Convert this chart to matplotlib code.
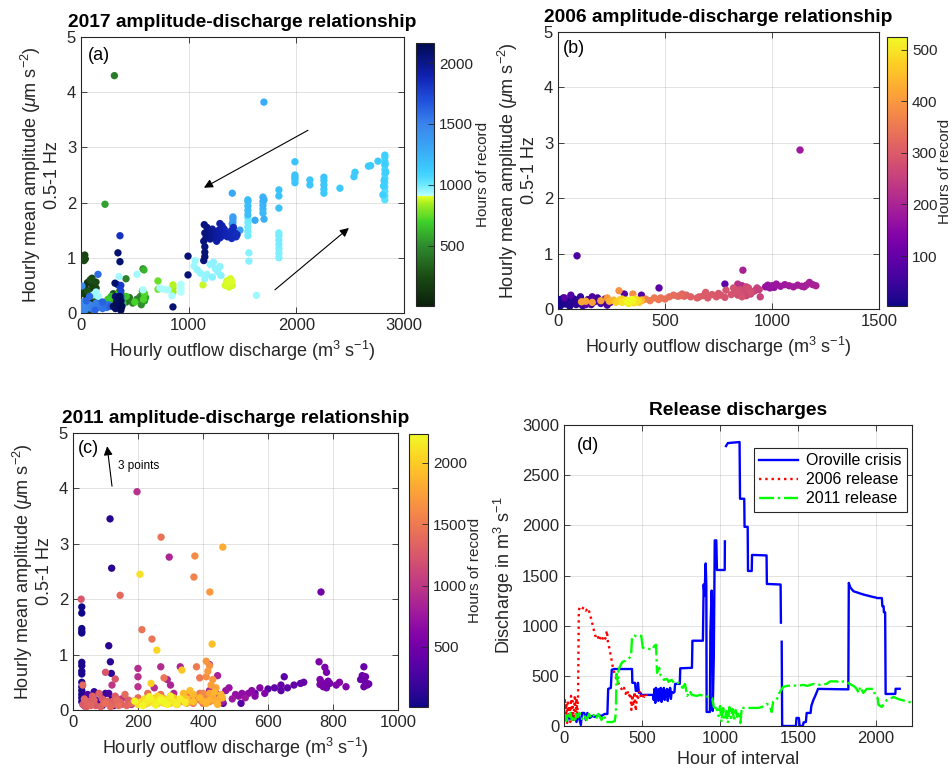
import numpy as np
import matplotlib
matplotlib.use('Agg')
import matplotlib.pyplot as plt
from matplotlib.colors import LinearSegmentedColormap

plt.rcParams['font.family'] = ['Liberation Sans', 'DejaVu Sans']
plt.rcParams['mathtext.fontset'] = 'custom'
plt.rcParams['mathtext.rm'] = 'Liberation Sans'
plt.rcParams['mathtext.it'] = 'Liberation Sans:italic'
plt.rcParams['mathtext.bf'] = 'Liberation Sans:bold'

nan = float('nan')

# ---- (d) release hydrographs: (hour of interval, discharge m3/s) ----
oroville_release = [
    (0, 60), (10, 110), (20, 50), (30, 120), (40, 70), (50, 130), (60, 60), (70, 100),
    (80, 40), (90, 120), (100, 60), (108, 10), (115, 130), (130, 130), (140, 60),
    (150, 130), (165, 80), (180, 100), (200, 90), (220, 110), (240, 100), (260, 120),
    (278, 120), (283, 370), (300, 380), (306, 560), (320, 568), (436, 568), (438, 430),
    (455, 430), (460, 350), (470, 350), (474, 430), (480, 330), (490, 330), (496, 310),
    (570, 310), (575, 260), (580, 370), (585, 230), (590, 380), (595, 280), (600, 360),
    (605, 250), (610, 370), (615, 290), (620, 380), (625, 240), (630, 360), (635, 300),
    (640, 380), (645, 260), (650, 350), (655, 290), (660, 370), (665, 250), (670, 360),
    (675, 300), (680, 380), (685, 270), (690, 340), (700, 330), (708, 340), (712, 420),
    (742, 420), (745, 575), (820, 580), (823, 850), (890, 850), (895, 1410), (900, 1300),
    (908, 1620), (912, 1400), (914, 140), (935, 140), (938, 930), (946, 1350), (950, 1200),
    (953, 150), (960, 700), (966, 1850), (976, 1850), (980, 1555), (1030, 1555),
    (1031, 1840), (nan, nan), (1038, 2790), (1050, 2820), (1125, 2830), (1128, 2265),
    (1155, 2265), (1157, 1985), (1177, 1985), (1179, 1545), (1203, 1545), (1205, 1705),
    (1298, 1700), (1300, 1416), (1388, 1410), (1390, 1030), (nan, nan), (1395, 840),
    (1398, 0), (1486, 0), (1490, 80), (1505, 80), (1510, 0), (1530, 0), (1535, 35),
    (1550, 40), (1555, 130), (1580, 130), (1585, 200), (1598, 260), (1610, 300),
    (1628, 370), (1822, 365), (1825, 1426), (1835, 1380), (1855, 1343), (1919, 1310),
    (1983, 1285), (2000, 1280), (2005, 1275), (2037, 1275), (2040, 1194), (2048, 1194),
    (2050, 1133), (2058, 1133), (2061, 319), (2123, 320), (2125, 371), (2151, 371),
]

release_2006 = [
    (0, 120), (5, 280), (10, 60), (15, 230), (20, 30), (25, 260), (30, 80), (35, 200),
    (40, 40), (45, 300), (50, 90), (55, 250), (60, 50), (65, 180), (70, 310), (75, 70),
    (80, 280), (85, 120), (90, 300), (95, 1150), (100, 1180), (115, 1160), (125, 1185),
    (140, 1150), (155, 1175), (165, 1120), (175, 1060), (185, 1000), (195, 930),
    (205, 880), (215, 900), (225, 850), (235, 890), (245, 860), (255, 900), (265, 870),
    (275, 950), (282, 830), (290, 780), (300, 700), (308, 630), (316, 560), (325, 520),
    (335, 470), (345, 440), (355, 400), (365, 380), (375, 350), (385, 380), (395, 320),
    (405, 360), (415, 290), (425, 330), (432, 160), (438, 310), (445, 200), (452, 340),
    (460, 150), (468, 320), (475, 280), (485, 350), (495, 270), (505, 330), (515, 290),
    (525, 320), (531, 300),
]

release_2011 = [
    (0, 60), (8, 110), (15, 50), (22, 120), (30, 70), (40, 130), (50, 60), (60, 100),
    (70, 40), (80, 120), (90, 90), (100, 130), (115, 70), (130, 110), (145, 60),
    (160, 120), (175, 80), (190, 110), (205, 70), (220, 120), (240, 60), (255, 110),
    (270, 40), (290, 40), (310, 40), (325, 50), (332, 120), (337, 520), (345, 430),
    (350, 560), (360, 600), (375, 640), (395, 650), (420, 680), (430, 700), (436, 890),
    (450, 900), (470, 890), (495, 900), (505, 780), (540, 770), (565, 760), (580, 800),
    (590, 810), (596, 530), (610, 580), (620, 500), (640, 460), (660, 470), (670, 440),
    (690, 460), (710, 420), (735, 430), (760, 380), (775, 420), (790, 300), (805, 350),
    (820, 310), (850, 300), (870, 310), (900, 300), (930, 290), (950, 280), (960, 190),
    (980, 170), (990, 100), (1000, 200), (1010, 40), (1020, 180), (1030, 60), (1040, 150),
    (1050, 30), (1060, 190), (1070, 80), (1080, 170), (1090, 50), (1100, 160), (1110, 90),
    (1120, 140), (1130, 30), (1140, 190), (1150, 180), (1200, 180), (1245, 180),
    (1270, 190), (1300, 220), (1320, 200), (1331, 140), (1340, 240), (1362, 260),
    (1380, 330), (1405, 390), (1430, 400), (1460, 405), (1500, 400), (1530, 410),
    (1560, 400), (1600, 420), (1640, 410), (1683, 420), (1705, 445), (1747, 445),
    (1768, 430), (1790, 445), (1811, 440), (1830, 420), (1854, 400), (1870, 380),
    (1890, 330), (1897, 390), (1918, 330), (1940, 370), (1983, 370), (1994, 300),
    (2010, 280), (2015, 210), (2037, 190), (2050, 220), (2069, 260), (2090, 270),
    (2111, 290), (2140, 270), (2160, 260), (2186, 250), (2210, 240), (2230, 230),
]

# ---- scatter panels: (discharge, amplitude, hour of record) ----
pts_2017 = [
    # first days, low release
    (10, 0.05, 10), (20, 0.12, 20), (30, 0.2, 30), (40, 0.08, 40), (55, 0.3, 50),
    (65, 0.15, 60), (80, 0.25, 70), (95, 0.1, 80), (110, 0.2, 90), (125, 0.35, 100),
    (40, 0.45, 110), (60, 0.55, 120), (90, 0.4, 130), (120, 0.12, 140), (135, 0.28, 150),
    (25, 0.35, 160), (50, 0.22, 170), (75, 0.05, 180), (105, 0.5, 190), (140, 0.45, 200),
    (35, 1.05, 210), (28, 0.95, 215), (40, 0.98, 220), (102, 0.63, 230), (139, 0.56, 240),
    (150, 0.2, 250), (85, 0.6, 260), (60, 0.4, 270), (120, 0.3, 280),
    # green
    (300, 0.35, 300), (330, 0.25, 320), (360, 0.4, 340), (380, 0.15, 360), (400, 0.3, 380),
    (420, 0.2, 400), (450, 0.28, 420), (310, 4.3, 450), (480, 0.18, 440), (418, 0.62, 470),
    (520, 0.25, 460), (550, 0.3, 480), (576, 0.80, 500), (560, 0.15, 505), (580, 0.35, 520),
    (590, 0.22, 540), (223, 1.97, 560), (600, 0.28, 565), (570, 0.4, 580), (340, 0.1, 600),
    (300, 0.2, 610), (585, 0.78, 620), (260, 0.15, 625), (280, 0.3, 630), (320, 0.12, 640),
    (360, 0.25, 650), (390, 0.18, 660), (420, 0.3, 670), (250, 0.25, 680), (230, 0.1, 690),
    (350, 0.35, 700), (500, 0.2, 710), (580, 0.25, 720), (590, 0.35, 730),
    # yellow-green
    (715, 0.58, 760), (715, 0.43, 780), (854, 0.38, 840), (854, 0.45, 850), (854, 0.51, 860),
    (1133, 0.51, 880), (1340, 0.5, 885), (1355, 0.58, 886), (1370, 0.52, 887),
    (1385, 0.6, 888), (1395, 0.55, 889), (1405, 0.5, 890), (1375, 0.47, 891),
    (1390, 0.62, 892), (1360, 0.54, 893), (1400, 0.57, 894),
    # light cyan
    (929, 0.38, 920), (929, 0.45, 922), (929, 0.52, 924), (845, 0.31, 926), (733, 0.45, 928),
    (770, 0.43, 930), (808, 0.42, 932), (576, 0.42, 934), (520, 0.70, 936), (353, 0.66, 938),
    (160, 0.30, 940), (140, 0.38, 942), (115, 0.33, 944), (1630, 0.32, 946), (1050, 0.85, 948),
    (1060, 0.95, 950), (1080, 0.78, 952), (1110, 0.72, 954), (1150, 0.62, 956),
    (1170, 0.70, 958), (1200, 0.88, 960), (1230, 0.92, 962), (1250, 0.80, 964),
    (1270, 0.75, 966), (1290, 0.84, 968), (1300, 0.68, 970), (1220, 0.65, 972),
    (1560, 0.94, 974), (1560, 1.09, 976), (1838, 1.00, 980), (1838, 1.08, 982),
    (1838, 1.16, 984), (1838, 1.24, 986), (1838, 1.32, 988), (1838, 1.40, 990),
    (1838, 1.45, 992), (1550, 1.40, 994), (1550, 1.48, 996), (1550, 1.56, 998),
    (1550, 1.64, 1000), (1550, 1.72, 1002),
    # cyan, peak release
    (2822, 2.05, 1040), (2822, 2.12, 1045), (2822, 2.20, 1050), (2822, 2.28, 1055),
    (2822, 2.36, 1060), (2822, 2.44, 1065), (2822, 2.52, 1070), (2822, 2.60, 1075),
    (2822, 2.68, 1080), (2822, 2.75, 1085), (2822, 2.82, 1090), (2822, 2.86, 1095),
    (2810, 2.30, 1100), (2830, 2.55, 1105), (2804, 2.14, 1110), (2815, 2.40, 1115),
    (2825, 2.70, 1118), (2758, 2.75, 1120), (2690, 2.67, 1121), (2670, 2.66, 1122),
    (2545, 2.55, 1123), (2535, 2.47, 1124), (2405, 2.26, 1125), (2256, 2.17, 1130),
    (2256, 2.24, 1134), (2256, 2.32, 1138), (2256, 2.40, 1142), (2256, 2.46, 1146),
    (2126, 2.32, 1150), (2126, 2.41, 1152), (1987, 2.36, 1155), (1987, 2.42, 1158),
    (1987, 2.46, 1161), (1987, 2.50, 1164), (1987, 2.74, 1166), (1838, 2.23, 1168),
    (1838, 2.12, 1170), (1838, 1.90, 1172),
    # sky blue
    (1550, 1.78, 1180), (1550, 1.86, 1184), (1550, 1.94, 1188), (1550, 2.02, 1192),
    (1550, 2.05, 1196), (1690, 1.81, 1210), (1690, 1.88, 1220), (1690, 1.95, 1230),
    (1690, 2.02, 1240), (1690, 2.10, 1250), (1700, 1.70, 1260), (1700, 2.05, 1270),
    (1699, 3.82, 1280), (1616, 1.68, 1290), (1405, 2.17, 1300), (1411, 1.52, 1310),
    (1411, 1.58, 1320), (1411, 1.64, 1330), (1411, 1.70, 1340), (1411, 1.74, 1350),
    (1405, 1.62, 1360), (1476, 1.50, 1370),
    # blue, spillway shut
    (5, 0.05, 1400), (10, 0.1, 1410), (20, 0.15, 1420), (0, 0.08, 1430), (15, 0.2, 1440),
    (30, 0.12, 1450), (9, 0.49, 1460), (40, 0.06, 1470), (60, 0.1, 1480), (80, 0.15, 1490),
    (100, 0.08, 1500), (120, 0.12, 1510), (140, 0.18, 1520), (160, 0.1, 1530),
    (180, 0.14, 1540), (200, 0.08, 1550), (220, 0.12, 1560), (240, 0.1, 1570),
    (250, 0.15, 1580), (158, 0.70, 1590), (80, 0.3, 1600), (50, 0.22, 1610),
    (130, 0.05, 1620), (200, 0.2, 1630), (270, 0.12, 1640), (370, 0.1, 1660),
    (370, 0.15, 1680), (370, 0.2, 1700), (370, 0.25, 1720), (370, 0.3, 1740),
    (370, 0.4, 1760), (370, 0.5, 1780), (343, 0.51, 1800), (362, 1.40, 1820),
    # navy, second high release
    (1420, 1.40, 1830), (1430, 1.45, 1835), (1440, 1.38, 1840), (1450, 1.42, 1845),
    (1415, 1.55, 1850), (1400, 1.35, 1855), (1390, 1.48, 1860), (1370, 1.42, 1865),
    (1360, 1.38, 1870), (1340, 1.45, 1875), (1330, 1.52, 1880), (1320, 1.40, 1885),
    (1310, 1.58, 1890), (1300, 1.44, 1895), (1290, 1.36, 1900), (1290, 1.62, 1905),
    (1280, 1.50, 1910), (1270, 1.42, 1920), (1260, 1.30, 1930), (1240, 1.46, 1940),
    (1230, 1.38, 1950), (1220, 1.52, 1960), (1210, 1.42, 1970), (1200, 1.34, 1980),
    (1190, 1.48, 1990), (1180, 1.40, 2000), (1170, 1.55, 2010), (1160, 1.36, 2020),
    (1150, 1.45, 2030), (1145, 1.60, 2035), (1140, 1.30, 2040), (1150, 1.20, 2045),
    (1150, 1.10, 2050), (1150, 1.02, 2055), (1140, 0.95, 2058), (994, 1.03, 2060),
    (994, 0.69, 2062), (854, 0.11, 2064), (343, 1.09, 2070), (362, 0.93, 2075),
    (316, 0.54, 2080), (320, 0.3, 2085), (330, 0.2, 2090), (340, 0.1, 2095),
    (350, 0.25, 2100), (360, 0.15, 2105), (370, 0.05, 2110), (300, 0.12, 2115),
    (320, 0.08, 2120), (340, 0.18, 2125), (360, 0.3, 2130), (370, 0.22, 2140),
    (380, 0.12, 2150), (370, 0.08, 2160),
]

pts_2006 = [
    # navy
    (5, 0.10, 5), (8, 0.17, 8), (12, 0.06, 10), (18, 0.14, 12), (25, 0.20, 15), (35, 0.09, 18),
    (45, 0.15, 20), (55, 0.05, 23), (65, 0.12, 26), (75, 0.18, 29), (85, 0.08, 32),
    (95, 0.14, 35), (105, 0.22, 38), (115, 0.06, 41), (125, 0.12, 44), (140, 0.17, 47),
    (155, 0.08, 50), (170, 0.13, 53), (185, 0.20, 56), (200, 0.10, 59), (215, 0.15, 62),
    (230, 0.07, 65), (245, 0.12, 68), (89, 0.96, 70), (160, 0.22, 72), (220, 0.18, 74),
    (310, 0.27, 76), (390, 0.25, 78), (60, 0.25, 80), (130, 0.08, 82), (30, 0.2, 84),
    (472, 0.38, 88), (780, 0.45, 92),
    # magenta
    (970, 0.40, 166), (1010, 0.39, 168), (980, 0.43, 170), (990, 0.38, 172), (1000, 0.42, 174),
    (1020, 0.45, 176), (1040, 0.41, 178), (1060, 0.44, 180), (1131, 2.87, 182),
    (1080, 0.42, 184), (1100, 0.40, 186), (1120, 0.43, 188), (1140, 0.41, 190),
    (1150, 0.40, 192), (1160, 0.43, 194), (864, 0.70, 195), (1175, 0.48, 196),
    (1190, 0.44, 198), (1205, 0.42, 200), (860, 0.42, 215), (840, 0.45, 225),
    # pink
    (940, 0.35, 250), (930, 0.38, 252), (920, 0.33, 254), (945, 0.22, 256), (910, 0.31, 258),
    (900, 0.27, 260), (890, 0.33, 262), (880, 0.24, 264), (880, 0.40, 266), (870, 0.28, 268),
    (850, 0.30, 270), (850, 0.35, 272), (870, 0.35, 274), (840, 0.25, 276), (890, 0.38, 278),
    (830, 0.30, 280), (900, 0.30, 281), (820, 0.38, 282), (840, 0.32, 283), (860, 0.22, 284),
    (810, 0.26, 285), (785, 0.34, 287),
    # salmon
    (780, 0.21, 288), (760, 0.25, 290), (750, 0.28, 292), (740, 0.22, 294), (720, 0.26, 296),
    (700, 0.20, 298), (690, 0.30, 300), (680, 0.24, 302), (660, 0.22, 304), (650, 0.20, 306),
    # orange-red
    (620, 0.22, 308), (600, 0.25, 312), (590, 0.23, 316), (580, 0.27, 320), (570, 0.24, 323),
    (560, 0.23, 326), (540, 0.25, 330), (520, 0.22, 333), (500, 0.18, 336), (480, 0.20, 340),
    # orange
    (470, 0.17, 344), (450, 0.20, 350), (430, 0.15, 356), (410, 0.18, 362), (395, 0.16, 370),
    (350, 0.27, 380), (285, 0.33, 390), (230, 0.20, 400), (200, 0.15, 405), (160, 0.12, 410),
    (130, 0.14, 415), (110, 0.13, 420),
    # yellow
    (240, 0.14, 432), (260, 0.16, 440), (390, 0.16, 448), (300, 0.18, 458), (380, 0.12, 468),
    (270, 0.12, 470), (290, 0.17, 475), (280, 0.14, 478), (375, 0.16, 480), (310, 0.15, 484),
    (360, 0.18, 490), (370, 0.14, 495), (355, 0.11, 498), (300, 0.12, 500), (330, 0.10, 505),
    (320, 0.16, 510), (350, 0.15, 515), (340, 0.13, 520), (345, 0.17, 523), (325, 0.13, 525),
]

pts_2011 = [
    # navy
    (27, 1.86, 20), (27, 1.75, 25), (27, 1.47, 30), (27, 1.42, 35), (27, 1.39, 40),
    (27, 0.86, 45), (27, 0.80, 50), (27, 0.70, 55), (27, 0.65, 60), (27, 0.50, 65),
    (27, 0.42, 70), (27, 0.35, 75), (27, 0.28, 80), (27, 0.22, 85), (27, 0.15, 90),
    (114, 3.45, 100), (119, 2.56, 110), (110, 1.16, 120), (115, 0.87, 130), (118, 0.66, 140),
    (65, 0.33, 150), (90, 0.20, 160), (40, 0.15, 170), (75, 0.10, 180), (100, 0.30, 190),
    (60, 0.25, 200), (120, 0.20, 210), (50, 0.12, 220), (35, 0.08, 230), (80, 0.15, 240),
    (100, 0.12, 250), (125, 0.08, 260), (110, 0.30, 270), (90, 0.08, 280), (70, 0.18, 290),
    (45, 0.28, 300), (462, 0.12, 330), (517, 0.12, 345),
    # indigo / purple
    (560, 0.30, 350), (600, 0.38, 360), (640, 0.35, 370), (650, 0.60, 380), (660, 0.40, 390),
    (680, 0.45, 400), (700, 0.48, 410), (710, 0.50, 420), (620, 0.40, 425), (640, 0.45, 430),
    (885, 0.55, 440), (890, 0.62, 448), (895, 0.78, 455), (900, 0.50, 462), (905, 0.45, 470),
    (895, 0.42, 478), (910, 0.47, 486), (900, 0.60, 494), (763, 2.13, 500), (790, 0.48, 508),
    (780, 0.40, 515), (770, 0.45, 522), (765, 0.50, 530), (770, 0.42, 535), (780, 0.68, 540),
    (785, 0.52, 545), (775, 0.77, 550), (760, 0.46, 555), (757, 0.87, 560), (760, 0.55, 570),
    (810, 0.45, 580), (840, 0.42, 588), (820, 0.50, 595),
    (590, 0.30, 605), (575, 0.40, 615), (560, 0.25, 630), (550, 0.35, 645), (540, 0.30, 660),
    (520, 0.30, 675), (510, 0.25, 690), (500, 0.28, 705), (480, 0.40, 720), (470, 0.35, 735),
    (530, 0.22, 750), (490, 0.20, 765), (460, 0.15, 780), (440, 0.30, 795),
    # magenta
    (440, 0.25, 805), (430, 0.20, 815), (420, 0.35, 825), (445, 0.62, 835), (420, 0.82, 840),
    (330, 0.78, 850), (300, 0.45, 860), (296, 2.76, 870), (290, 0.55, 880), (310, 0.30, 890),
    (280, 0.20, 900), (270, 0.78, 910), (250, 0.40, 920), (200, 0.75, 930), (200, 0.60, 940),
    (197, 3.94, 950), (230, 0.15, 960), (200, 0.42, 970), (180, 0.10, 980), (150, 0.20, 990),
    (120, 0.45, 1000),
    # pink-red, low release
    (100, 0.68, 1230), (130, 0.56, 1240), (25, 2.00, 1250), (30, 0.10, 1260), (50, 0.15, 1265),
    (70, 0.08, 1270), (90, 0.20, 1275), (110, 0.12, 1280), (130, 0.25, 1285), (150, 0.10, 1290),
    (170, 0.18, 1295), (60, 0.25, 1300), (40, 0.05, 1305), (80, 0.30, 1310), (120, 0.15, 1315),
    (45, 0.12, 1320), (65, 0.18, 1325), (85, 0.06, 1330), (105, 0.16, 1335), (125, 0.10, 1340),
    (145, 0.14, 1345), (165, 0.08, 1350), (185, 0.16, 1355), (35, 0.20, 1360),
    (55, 0.08, 1365), (95, 0.12, 1370), (115, 0.06, 1375), (135, 0.18, 1380),
    (30, 0.45, 1385), (145, 2.07, 1390), (160, 0.28, 1395), (180, 0.12, 1400),
    (200, 0.22, 1405), (140, 0.08, 1410), (100, 0.12, 1415), (200, 0.15, 1420),
    (230, 0.30, 1430), (220, 0.10, 1440),
    # salmon / orange-red
    (250, 0.20, 1445), (270, 0.28, 1448), (271, 3.12, 1451), (212, 1.45, 1454),
    (243, 1.28, 1457), (290, 0.15, 1460), (300, 0.25, 1463), (320, 0.10, 1466),
    (340, 0.20, 1469), (260, 0.12, 1472), (280, 0.58, 1475), (360, 0.15, 1478),
    (380, 0.22, 1481), (390, 0.30, 1484), (400, 0.12, 1487), (310, 0.18, 1490),
    (350, 0.28, 1493), (370, 0.12, 1496), (390, 0.58, 1499), (390, 0.18, 1502),
    # orange
    (380, 0.78, 1505), (340, 0.15, 1510), (360, 0.18, 1520), (400, 0.20, 1530),
    (420, 0.15, 1540), (372, 2.40, 1550), (410, 0.25, 1560), (430, 0.18, 1580),
    (400, 0.30, 1600), (375, 2.78, 1620), (410, 0.60, 1640), (420, 0.80, 1660),
    (410, 0.88, 1680), (421, 2.13, 1700), (415, 0.70, 1710), (430, 0.55, 1720),
    (425, 0.45, 1740), (440, 0.40, 1760), (420, 0.30, 1780), (430, 0.25, 1800),
    (461, 2.94, 1810), (450, 0.20, 1820), (440, 0.15, 1830), (460, 0.22, 1840),
    (420, 0.18, 1850), (400, 0.16, 1860), (445, 0.10, 1865), (455, 0.28, 1870),
    (435, 0.32, 1875), (410, 0.12, 1880), (390, 0.22, 1885), (370, 0.28, 1890),
    (350, 0.12, 1895), (340, 0.22, 1900),
    # yellow, last weeks
    (340, 0.30, 1910), (360, 0.35, 1920), (330, 0.18, 1930), (428, 1.19, 1940),
    (370, 0.15, 1950), (350, 0.20, 1960), (335, 0.72, 1970), (310, 0.22, 1980),
    (290, 0.15, 1990), (300, 0.12, 2000), (280, 0.20, 2010), (240, 0.48, 2020),
    (260, 0.25, 2030), (270, 0.15, 2040), (258, 1.08, 2050), (250, 0.18, 2060),
    (230, 0.12, 2070), (220, 0.20, 2080), (210, 0.15, 2090), (200, 0.10, 2100),
    (206, 2.45, 2110), (250, 0.12, 2120), (270, 0.22, 2130), (280, 0.12, 2140),
    (290, 0.18, 2150), (310, 0.15, 2160), (330, 0.20, 2170), (300, 0.25, 2180),
    (260, 0.14, 2190), (240, 0.20, 2200), (280, 0.16, 2210), (290, 0.10, 2220),
    (270, 0.18, 2230), (190, 0.16, 2225), (215, 0.08, 2215), (235, 0.24, 2205),
    (255, 0.09, 2195), (320, 0.10, 2185), (345, 0.14, 2175), (225, 0.15, 2165),
]

hour_range_2017 = (8, 2164)
hour_range_2006 = (3, 525)
hour_range_2011 = (10, 2236)

# two-part colormap used for the 2017 panel (green while filling, blues after)
cmap17_nodes = [
    (8, '#0a1f0a'), (250, '#1b4d14'), (500, '#2e8b2e'), (700, '#3fd12a'),
    (850, '#a8f020'), (905, '#e6ff2a'), (912, '#b8ffff'), (1000, '#70eaff'),
    (1100, '#3dd0ff'), (1300, '#3aa8f5'), (1500, '#3a84ec'), (1700, '#2050dc'),
    (1900, '#1020b0'), (2164, '#000a50'),
]

W, H = 952, 778
TXT = '#262626'


def px_box(left, top, right, bottom):
    return [left / W, 1 - bottom / H, (right - left) / W, (bottom - top) / H]


def style_axes(ax):
    ax.grid(True, color=TXT, alpha=0.15, linewidth=0.6)
    ax.set_axisbelow(True)
    ax.tick_params(direction='in', top=True, right=True, length=4, width=0.6,
                   labelsize=12, colors=TXT)
    for sp in ax.spines.values():
        sp.set_color(TXT)
        sp.set_linewidth(0.8)


def scatter_panel(ax, cax, pts, cmap, hrange, cticks, xmax, xstep, title, tag, tagpos,
                  cbar_label_x):
    arr = np.array(pts, dtype=float)
    arr = arr[np.argsort(arr[:, 2], kind='stable')]
    sc = ax.scatter(arr[:, 0], arr[:, 1], c=arr[:, 2], cmap=cmap,
                    vmin=hrange[0], vmax=hrange[1], s=28, linewidths=0, zorder=3)
    ax.set_xlim(0, xmax)
    ax.set_ylim(0, 5)
    ax.set_xticks(np.arange(0, xmax + 1, xstep))
    ax.set_yticks([0, 1, 2, 3, 4, 5])
    style_axes(ax)
    ax.set_xlabel('Hourly outflow discharge (m$^{3}$ s$^{-1}$)', fontsize=13, color=TXT)
    ax.set_ylabel('Hourly mean amplitude ($\\mu$m s$^{-2}$)\n0.5-1 Hz', fontsize=13,
                  color=TXT, linespacing=1.1)
    ax.set_title(title, fontsize=13.8, fontweight='bold', pad=7)
    ax.text(tagpos[0], tagpos[1], tag, transform=ax.transAxes, va='top', ha='left',
            fontsize=13)

    cb = ax.figure.colorbar(sc, cax=cax)
    cb.set_ticks(cticks)
    cb.ax.tick_params(direction='in', length=4, width=0.6, labelsize=11, colors=TXT)
    cb.outline.set_edgecolor(TXT)
    cb.outline.set_linewidth(0.8)
    cb.set_label('Hours of record', fontsize=11, color=TXT)
    cb.ax.yaxis.set_label_coords(cbar_label_x, 0.5)
    return sc


fig = plt.figure(figsize=(W / 100, H / 100), dpi=100)

ax_a = fig.add_axes(px_box(81, 37, 404, 313))
cax_a = fig.add_axes(px_box(416, 43, 434, 306))
ax_b = fig.add_axes(px_box(558, 32, 879, 309))
cax_b = fig.add_axes(px_box(887, 37, 907, 306))
ax_c = fig.add_axes(px_box(73, 433, 398, 710))
cax_c = fig.add_axes(px_box(409, 434, 428, 707))
ax_d = fig.add_axes(px_box(564, 425, 912, 726))

lo, hi = hour_range_2017
cmap17 = LinearSegmentedColormap.from_list(
    'oroville', [((h - lo) / (hi - lo), c) for h, c in cmap17_nodes])

# (a) 2017
scatter_panel(ax_a, cax_a, pts_2017, cmap17, hour_range_2017, [500, 1000, 1500, 2000],
              3000, 1000, '2017 amplitude-discharge relationship', '(a)', (0.022, 0.965),
              3.33)
arrow_kw = dict(arrowstyle='-|>', color='k', lw=0.8, mutation_scale=13, shrinkA=0, shrinkB=0)
ax_a.annotate('', xy=(1142, 2.27), xytext=(2108, 3.31), arrowprops=arrow_kw)
ax_a.annotate('', xy=(2488, 1.54), xytext=(1801, 0.42), arrowprops=arrow_kw)

# (b) 2006
scatter_panel(ax_b, cax_b, pts_2006, 'plasma', hour_range_2006, [100, 200, 300, 400, 500],
              1500, 500, '2006 amplitude-discharge relationship', '(b)', (0.016, 0.97),
              2.55)

# (c) 2011
scatter_panel(ax_c, cax_c, pts_2011, 'plasma', hour_range_2011, [500, 1000, 1500, 2000],
              1000, 200, '2011 amplitude-discharge relationship', '(c)', (0.016, 0.975),
              3.1)
ax_c.annotate('', xy=(105, 4.76), xytext=(120, 4.04), arrowprops=arrow_kw)
ax_c.text(137, 4.40, '3 points', fontsize=8.5, va='center', ha='left')

# (d) release discharges
for series, style, color, label in [
        (oroville_release, '-', '#0000ff', 'Oroville crisis'),
        (release_2006, ':', '#ff0000', '2006 release'),
        (release_2011, '-.', '#00ff00', '2011 release')]:
    arr = np.array(series, dtype=float)
    ax_d.plot(arr[:, 0], arr[:, 1], linestyle=style, color=color, lw=1.7, label=label)
ax_d.set_xlim(0, 2230)
ax_d.set_ylim(0, 3000)
ax_d.set_xticks([0, 500, 1000, 1500, 2000])
ax_d.set_yticks(np.arange(0, 3001, 500))
style_axes(ax_d)
ax_d.set_xlabel('Hour of interval', fontsize=13, color=TXT)
ax_d.set_ylabel('Discharge in m$^{3}$ s$^{-1}$', fontsize=13, color=TXT)
ax_d.set_title('Release discharges', fontsize=13.8, fontweight='bold', pad=7)
ax_d.text(0.037, 0.96, '(d)', transform=ax_d.transAxes, va='top', ha='left', fontsize=13)
leg = ax_d.legend(loc='upper right', bbox_to_anchor=(0.985, 0.925), fontsize=11.5,
                  fancybox=False, framealpha=1, edgecolor=TXT, handlelength=2.4,
                  borderpad=0.35, labelspacing=0.25, handletextpad=0.5, borderaxespad=0)
leg.get_frame().set_linewidth(0.8)

fig.savefig('out.png', dpi=100, facecolor='white')
